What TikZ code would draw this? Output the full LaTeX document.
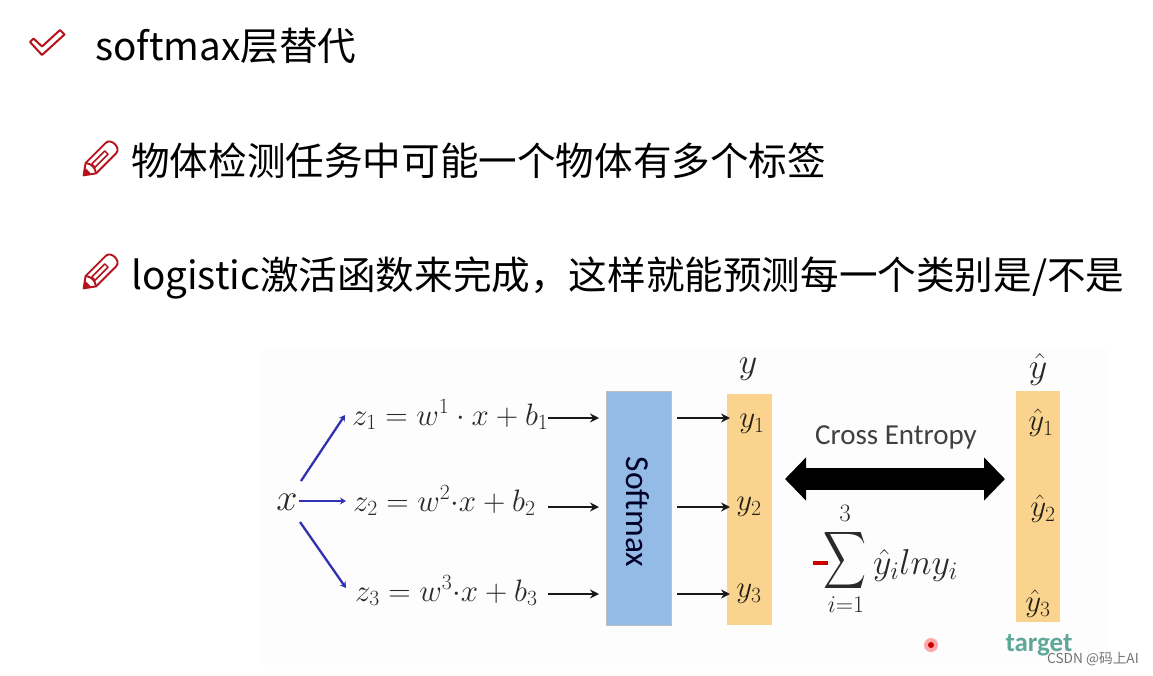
\RequirePackage{fix-cm}
\documentclass[tikz,border=0pt]{standalone}
\usepackage{amsmath}
\usepackage{graphicx}
\usepackage{fontspec}
\setmainfont{Carlito}
\newfontfamily\cjkf{Noto Sans CJK SC}
\usetikzlibrary{arrows.meta}
\definecolor{iconred}{HTML}{B5121B}
\definecolor{softblue}{HTML}{94BBE6}
\definecolor{softorange}{HTML}{FAD48F}
\definecolor{mathgray}{HTML}{2A2A2A}
\definecolor{bluearrow}{HTML}{3030B0}
\definecolor{targetgreen}{HTML}{5FA898}
\newcommand{\fs}[1]{\fontsize{#1}{#1}\selectfont}
\tikzset{
  x=1pt,y=-1pt,
  headline/.style={anchor=base west,inner sep=0pt,text=black,font=\cjkf\fs{38.6}},
  bodyline/.style={anchor=base west,inner sep=0pt,text=black,font=\cjkf\fs{38.6}},
  eqn/.style={anchor=base west,inner sep=0pt,text=mathgray,font=\fs{31}},
  ylab/.style={inner sep=0pt,text=black!85!softorange,font=\fs{31}},
  softbar/.style={fill=#1,draw=none,inner sep=0pt},
  bluelink/.style={draw=bluearrow,line width=2.3pt,-{Stealth[length=6pt,width=7pt]}},
  blacklink/.style={draw=black!90,line width=2.6pt,-{Stealth[length=9pt,width=9pt]}},
  pencilicon/.pic={
    \begin{scope}[x=.92pt,y=.92pt,rotate=45,draw=iconred,line width=1.9pt,line join=round]
      \fill[iconred] (0,0) -- (8,-4) -- (8,4) -- cycle;
      \draw (1,0) -- (12,-8) -- (43,-8) .. controls (51,-8) and (51,8) .. (43,8) -- (12,8) -- cycle;
      \draw (12,-8) .. controls (16,-3) and (16,3) .. (12,8);
      \draw[line width=1.5pt] (16,-2.5) -- (36,-2.5) -- (36,2.5) -- (16,2.5) -- cycle;
    \end{scope}
  }
}
\begin{document}
\begin{tikzpicture}
\useasboundingbox (0,0) rectangle (1153,675);
\fill[white] (0,0) rectangle (1153,675);
\fill[black!0.7] (262,350) rectangle (1110,665);

% header icon
\draw[iconred,line width=2pt,line join=round]
  (30,42) -- (33.5,38.5) -- (42,46.5) -- (60,30) -- (64.5,34.5) -- (42,55) -- cycle;
\pic at (83,176) {pencilicon};
\pic at (83,289) {pencilicon};

\node[headline] (title) at (95,60) {softmax层替代};
\node[bodyline] (lineA) at (131,175) {物体检测任务中可能一个物体有多个标签};
\node[bodyline] (lineB) at (131,289) {logistic激活函数来完成，这样就能预测每一个类别是/不是};

% bars
\node[softbar=softblue,draw=black!25,line width=.5pt,minimum width=65pt,minimum height=234pt] (soft) at (639,508) {};
\node[rotate=-90,text=black!85!blue,font=\fs{33.5}] (softlabel) at (638,512) {Softmax};
\node[softbar=softorange,minimum width=45pt,minimum height=231pt] (ybar) at (749.5,509.5) {};
\node[softbar=softorange,minimum width=44pt,minimum height=231pt] (yhatbar) at (1038,506.5) {};

% x and equations
\node[inner sep=0pt,text=mathgray,font=\fs{38}] (x) at (287,502) {$x$};
\node[eqn] (z1) at (352,425) {$z_1 = w^1\cdot x + b_1$};
\node[eqn] (z2) at (353,511) {$z_2 = w^2{\cdot}x + b_2$};
\node[eqn] (z3) at (355,601) {$z_3 = w^3{\cdot}x + b_3$};

\coordinate (z1in) at (345,415);
\coordinate (z2in) at (346,501);
\coordinate (z3in) at (346,588);
\coordinate (x1) at (301,481);
\coordinate (x2) at (299,501);
\coordinate (x3) at (300,522);
\draw[bluelink] (x1) -- (z1in);
\draw[bluelink] (x2) -- (z2in);
\draw[bluelink] (x3) -- (z3in);

% arrows into softmax
\coordinate (a1) at (548,418);
\coordinate (a2) at (548,507);
\coordinate (a3) at (548,594);
\coordinate (s1) at (599,418);
\coordinate (s2) at (599,507);
\coordinate (s3) at (599,594);
\draw[blacklink] (a1) -- (s1);
\draw[blacklink] (a2) -- (s2);
\draw[blacklink] (a3) -- (s3);

% arrows out of softmax
\coordinate (b1) at (677,418);
\coordinate (b2) at (677,507);
\coordinate (b3) at (677,594);
\coordinate (c1) at (730,418);
\coordinate (c2) at (730,507);
\coordinate (c3) at (730,594);
\draw[blacklink] (b1) -- (c1);
\draw[blacklink] (b2) -- (c2);
\draw[blacklink] (b3) -- (c3);

% y labels
\node[inner sep=0pt,text=mathgray,font=\fs{36}] (ytop) at (748,369) {$y$};
\node[inner sep=0pt,text=mathgray,font=\fs{36}] (yhattop) at (1038,369) {$\hat y$};
\node[ylab] (y1) at (752,424) {$y_1$};
\node[ylab] (y2) at (749,507) {$y_2$};
\node[ylab] (y3) at (749,594) {$y_3$};
\node[ylab] (yh1) at (1041,423) {$\hat y_1$};
\node[ylab] (yh2) at (1043,509) {$\hat y_2$};
\node[ylab] (yh3) at (1038,604) {$\hat y_3$};

% cross entropy
\node[inner sep=0pt,text=black!75,font=\fs{29}] (ce) at (896,437) {Cross Entropy};
\coordinate (ceL) at (785,479);
\coordinate (ceR) at (1005,479);
\draw[line width=22pt,black,{Triangle[length=21pt,width=42pt]}-{Triangle[length=21pt,width=42pt]}] (ceL) -- (ceR);

% formula
\node[inner sep=0pt,text=red!80!black] (minus) at (820,563) {\rule{15pt}{3.5pt}};
\node[inner sep=0pt,text=mathgray] (sum) at (845,560) {\resizebox*{43pt}{64pt}{$\displaystyle\sum$}};
\node[inner sep=0pt,text=mathgray,font=\fs{25}] (top3) at (845,513) {$3$};
\node[inner sep=0pt,text=mathgray,font=\fs{24}] (bot) at (846,605) {$i{=}1$};
\node[eqn,font=\fs{36}] (summand) at (873,574) {$\hat y_i l n y_i$};

% target, dot, watermark
\node[inner sep=0pt,text=targetgreen,font=\bfseries\fs{27}] (target) at (1039,645) {target};
\fill[red!35] (931,645) circle (7pt);
\fill[red!80!black] (931,645) circle (3pt);
\node[inner sep=0pt,text=black!55,font=\cjkf\fs{13.7}] (wm) at (1093,659) {CSDN @码上AI};
\end{tikzpicture}
\end{document}
